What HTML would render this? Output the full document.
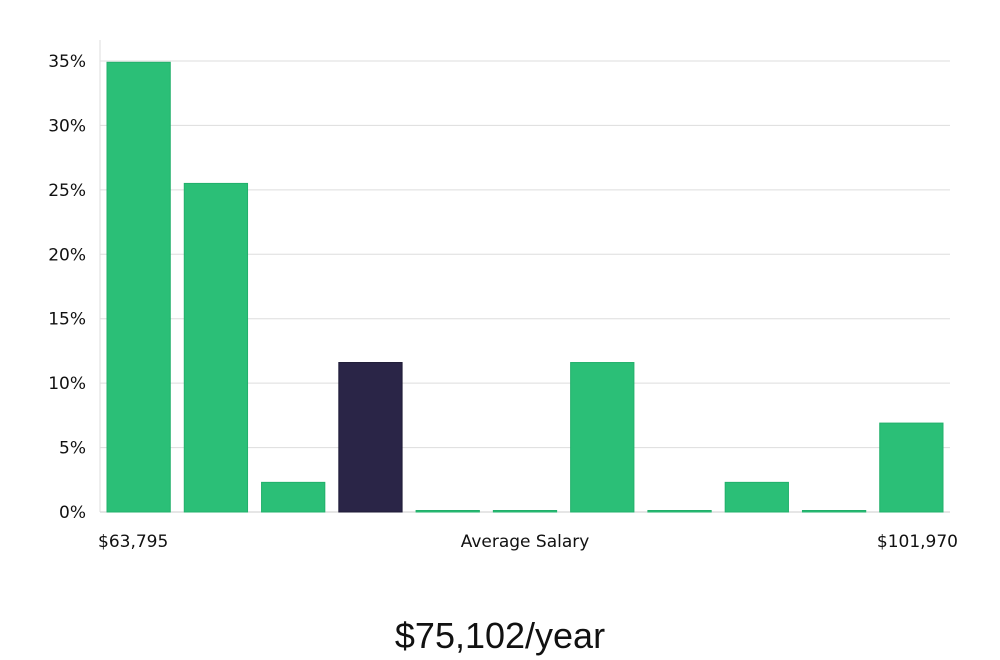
<!DOCTYPE html>
<html><head><meta charset="utf-8"><style>
html,body{margin:0;padding:0;background:#fff;width:1000px;height:660px;overflow:hidden}
svg text{font-family:"DejaVu Sans","Liberation Sans",sans-serif}
</style></head><body>
<svg id="chart" width="1000" height="660" xmlns="http://www.w3.org/2000/svg">
<g id="grid"></g><g id="bars"></g><g id="labels"></g>
<text x="98" y="547" font-size="17" fill="#111">$63,795</text>
<text x="525" y="547" font-size="17" fill="#111" text-anchor="middle">Average Salary</text>
<text x="958" y="547" font-size="17" fill="#111" text-anchor="end">$101,970</text>
<text x="500" y="648" font-size="36" fill="#111" text-anchor="middle" style="font-family:'Liberation Sans',sans-serif">$75,102/year</text>
</svg>
<script>
const categories=["b1","b2","b3","b4","b5","b6","b7","b8","b9","b10","b11"];
const values=[34.9,25.5,2.3,11.6,0,0,11.6,0,2.3,0,6.9];
const highlight=[false,false,false,true,false,false,false,false,false,false,false];
const ticks=[0,5,10,15,20,25,30,35];
const tickLabels=["0%","5%","10%","15%","20%","25%","30%","35%"];
const NS="http://www.w3.org/2000/svg";
const x0=100,x1=950,y0=512,yTop=61,maxV=35;
const y=v=>y0-(v/maxV)*(y0-yTop);
const band=(x1-x0)/categories.length;
const xb=i=>x0+i*band;
const grid=document.getElementById('grid'),bars=document.getElementById('bars'),labels=document.getElementById('labels');
ticks.forEach((t,i)=>{
 const l=document.createElementNS(NS,'line');
 
 
 l.setAttribute('x1',x0);l.setAttribute('x2',x1);l.setAttribute('y1',y(t));l.setAttribute('y2',y(t));
 l.setAttribute('stroke',t===0?'#ccc':'#ddd');l.setAttribute('stroke-width','1');
 grid.appendChild(l);
 const tx=document.createElementNS(NS,'text');
 
 
 tx.setAttribute('x',86);tx.setAttribute('y',y(t)+6);tx.setAttribute('text-anchor','end');
 tx.setAttribute('font-size','17');tx.setAttribute('fill','#111');tx.textContent=tickLabels[i];
 labels.appendChild(tx);
});
const ax=document.createElementNS(NS,'line');


ax.setAttribute('x1',x0);ax.setAttribute('x2',x0);ax.setAttribute('y1',40);ax.setAttribute('y2',y0);
ax.setAttribute('stroke','#ddd');grid.appendChild(ax);
values.forEach((v,i)=>{
 const r=document.createElementNS(NS,'rect');
 
 
 const h=Math.max(1.5,y0-y(v));
 r.setAttribute('x',xb(i)+7);r.setAttribute('width',band-14);
 r.setAttribute('y',y0-h);r.setAttribute('height',h);
 r.setAttribute('fill',highlight[i]?'#2a2547':'#2bbf77');
 r.setAttribute('stroke',highlight[i]?'#1d1a36':'#22b06b');r.setAttribute('stroke-width','1');
 bars.appendChild(r);
});
</script>
</body></html>
